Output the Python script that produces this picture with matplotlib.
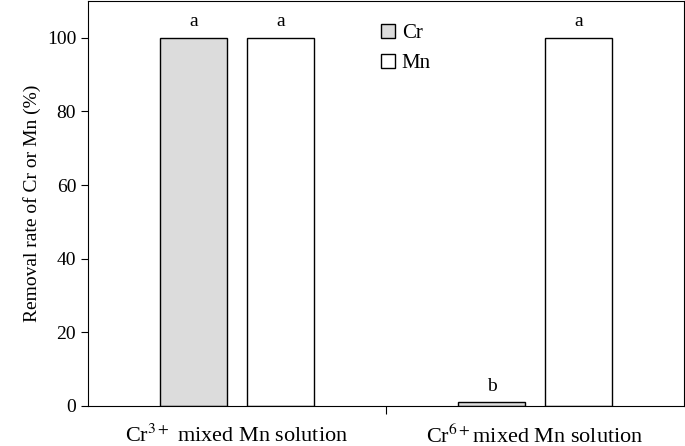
import matplotlib
matplotlib.use("Agg")
import matplotlib.pyplot as plt
import numpy as np

plt.rcParams["font.family"] = ["Liberation Serif", "DejaVu Serif"]
plt.rcParams["mathtext.fontset"] = "stix"

categories = ["Cr$^{3+}$ mixed Mn solution", "Cr$^{6+}$mixed Mn solution"]
cr_values = [100, 1]
mn_values = [100, 100]
cr_letters = ["a", "b"]
mn_letters = ["a", "a"]

fig = plt.figure(figsize=(6.85, 4.46), dpi=100)
ax = fig.add_axes([88 / 685, 1 - 406 / 446, 596 / 685, 405 / 446])

x = np.arange(len(categories))
w = 0.225
off = 0.145
b1 = ax.bar(x - off, cr_values, w, color="#dcdcdc", edgecolor="black", linewidth=1, label="Cr")
b2 = ax.bar(x + off, mn_values, w, color="white", edgecolor="black", linewidth=1, label="Mn")

for bars, letters in ((b1, cr_letters), (b2, mn_letters)):
    for bar, t in zip(bars, letters):
        ax.text(bar.get_x() + bar.get_width() / 2, bar.get_height() + 2, t,
                ha="center", va="bottom", fontsize=14)

ax.set_xlim(-0.5, 1.5)
ax.set_ylim(0, 110)
ax.set_yticks(range(0, 101, 20))
ax.set_xticks([0.5])
ax.set_xticklabels([""])
ax.tick_params(axis="x", direction="out", length=6)
ax.tick_params(axis="y", direction="out", length=5, labelsize=14)
for i, c in enumerate(categories):
    ax.text(i, -5, c, ha="center", va="top", fontsize=16)
ax.set_ylabel("Removal rate of Cr or Mn (%)", fontsize=14)

ax.legend(loc="upper left", bbox_to_anchor=(0.46, 0.99), frameon=False, fontsize=15,
          handlelength=0.7, handleheight=0.7, handletextpad=0.3, labelspacing=0.5)

fig.savefig("out.png", dpi=100)
